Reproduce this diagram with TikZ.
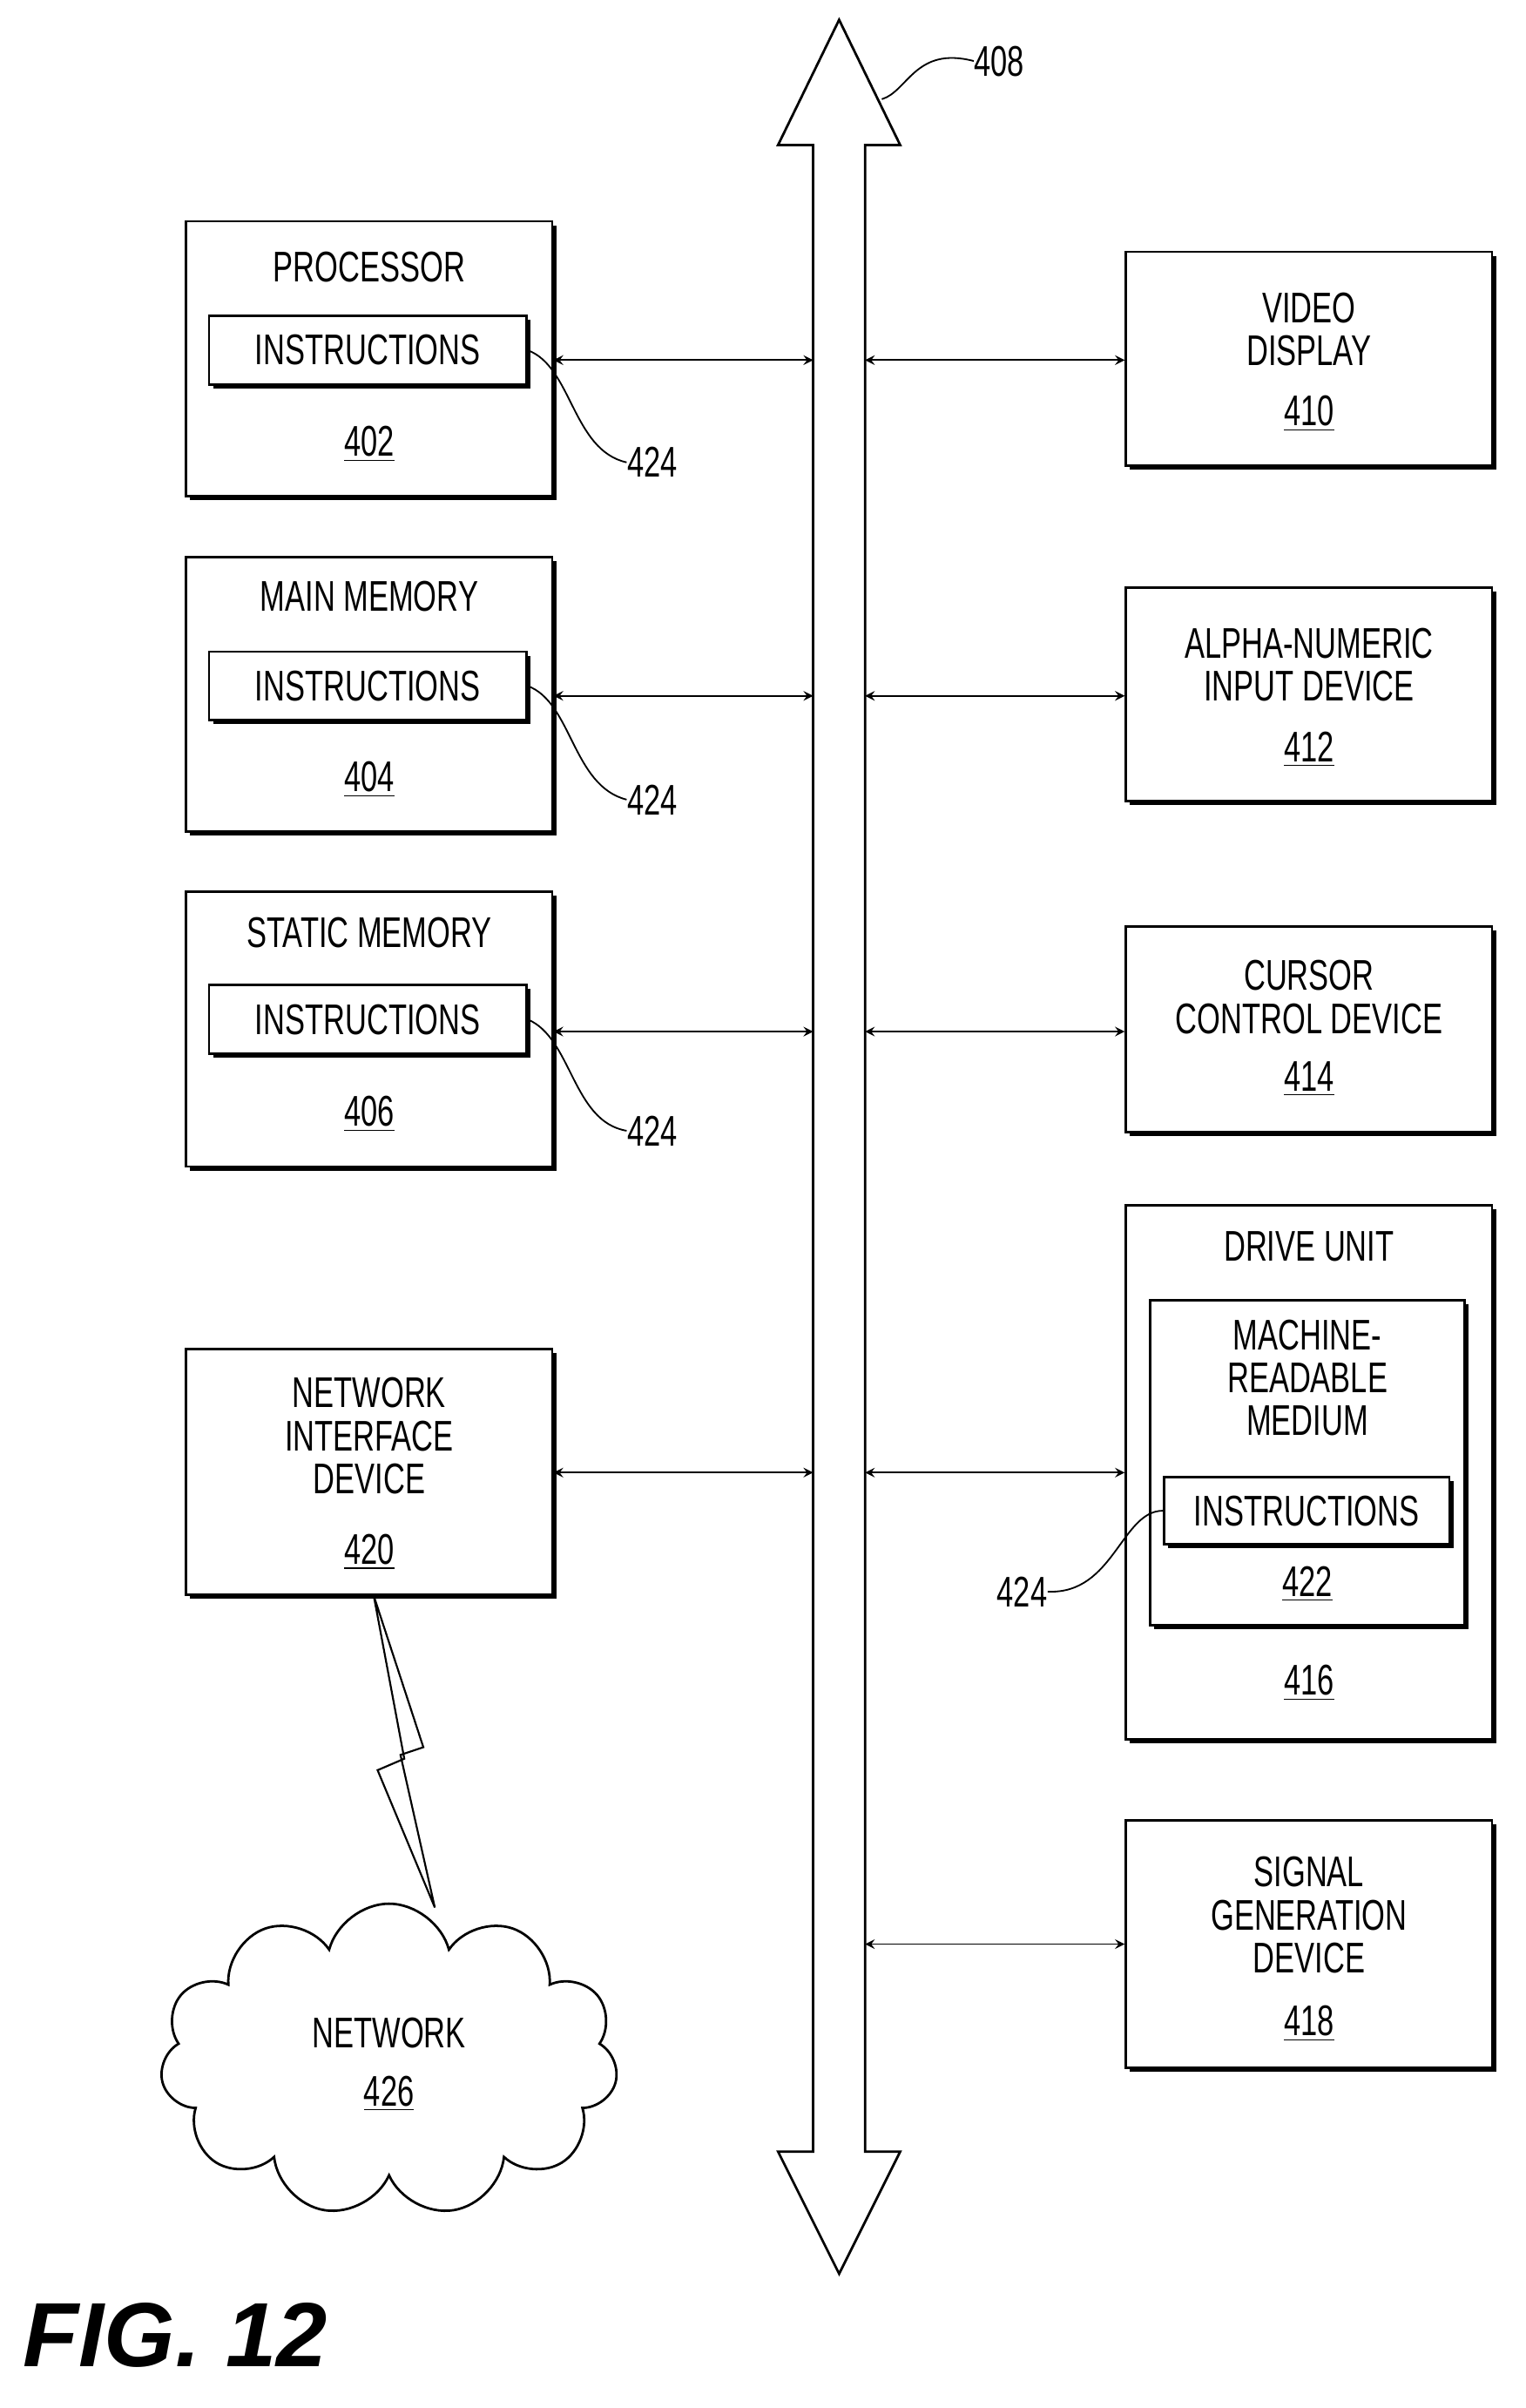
\documentclass[tikz,border=0pt]{standalone}
\usepackage{fontspec}
\setmainfont{Liberation Sans}[FakeStretch=0.7]
\newfontfamily\figfont{Liberation Sans}
\usetikzlibrary{shapes.symbols,shadows}

\begin{document}
\begin{tikzpicture}[%
    font=\fontsize{16}{18}\selectfont,
    box/.style={draw, line width=0.9pt, fill=white, drop shadow={shadow xshift=1.5pt, shadow yshift=-1.5pt, opacity=1, fill=black}},
    txt/.style={align=center, inner sep=0pt},
    biarrow/.style={<->, >=stealth, line width=0.6pt},
    callout/.style={line width=0.6pt},
    ]
    \useasboundingbox (0,0) rectangle (20,-31.56);
    % bus
    \draw[line width=0.9pt] (10.66,-1.90) -- (10.2,-1.90) -- (11.0,-0.26) -- (11.8,-1.90) -- (11.34,-1.90)
      -- (11.34,-28.2) -- (11.8,-28.2) -- (11.0,-29.8) -- (10.2,-28.2) -- (10.66,-28.2) -- cycle;
    \coordinate (busL) at (10.66,0);
    \coordinate (busR) at (11.34,0);
    \node[txt] (l408) at (13.1,-0.80) {408};
    \draw[callout] (11.56,-1.30) .. controls (11.9,-1.2) and (12.0,-0.6) .. (l408.west);
    % left boxes
    \node[box, minimum width=4.8cm, minimum height=3.6cm] (proc) at (4.84,-4.70) {};
    \node[txt] (procT) at (4.84,-3.50) {PROCESSOR};
    \node[box, minimum width=4.16cm, minimum height=0.9cm, txt] (procI) at (4.82,-4.59) {INSTRUCTIONS};
    \node[txt] (procN) at (4.84,-5.82) {\underline{402}};
    \node[box, minimum width=4.8cm, minimum height=3.6cm] (mem) at (4.84,-9.10) {};
    \node[txt] (memT) at (4.84,-7.82) {MAIN MEMORY};
    \node[box, minimum width=4.16cm, minimum height=0.9cm, txt] (memI) at (4.82,-8.99) {INSTRUCTIONS};
    \node[txt] (memN) at (4.84,-10.22) {\underline{404}};
    \node[box, minimum width=4.8cm, minimum height=3.6cm] (stat) at (4.84,-13.49) {};
    \node[txt] (statT) at (4.84,-12.22) {STATIC MEMORY};
    \node[box, minimum width=4.16cm, minimum height=0.9cm, txt] (statI) at (4.82,-13.36) {INSTRUCTIONS};
    \node[txt] (statN) at (4.84,-14.60) {\underline{406}};
    \node[box, minimum width=4.8cm, minimum height=3.22cm] (net) at (4.84,-19.29) {};
    \node[txt] (netT) at (4.84,-18.82) {NETWORK\\[-2pt]INTERFACE\\[-2pt]DEVICE};
    \node[txt] (netN) at (4.84,-20.34) {\underline{420}};
    % callouts 424
    \node[txt] (c1) at (8.55,-6.06) {424};
    \node[txt] (c2) at (8.55,-10.48) {424};
    \node[txt] (c3) at (8.55,-14.82) {424};
    \draw[callout] (procI.east) .. controls (7.5,-4.8) and (7.5,-5.9) .. (c1.west);
    \draw[callout] (memI.east) .. controls (7.5,-9.2) and (7.5,-10.3) .. (c2.west);
    \draw[callout] (statI.east) .. controls (7.5,-13.6) and (7.5,-14.7) .. (c3.west);
    % right boxes
    \node[box, minimum width=4.8cm, minimum height=2.8cm] (vid) at (17.16,-4.70) {};
    \node[txt] (vidT) at (17.16,-4.32) {VIDEO\\[-2pt]DISPLAY};
    \node[txt] (vidN) at (17.16,-5.42) {\underline{410}};
    \node[box, minimum width=4.8cm, minimum height=2.8cm] (alpha) at (17.16,-9.10) {};
    \node[txt] (alphaT) at (17.16,-8.71) {ALPHA-NUMERIC\\[-2pt]INPUT DEVICE};
    \node[txt] (alphaN) at (17.16,-9.82) {\underline{412}};
    \node[box, minimum width=4.8cm, minimum height=2.7cm] (curs) at (17.16,-13.49) {};
    \node[txt] (cursT) at (17.16,-13.07) {CURSOR\\[-2pt]CONTROL DEVICE};
    \node[txt] (cursN) at (17.16,-14.14) {\underline{414}};
    \node[box, minimum width=4.8cm, minimum height=7.0cm] (drive) at (17.16,-19.30) {};
    \node[txt] (driveT) at (17.16,-16.34) {DRIVE UNIT};
    \node[box, minimum width=4.12cm, minimum height=4.26cm] (med) at (17.14,-19.17) {};
    \node[txt] (medT) at (17.14,-18.06) {MACHINE-\\[-2pt]READABLE\\[-2pt]MEDIUM};
    \node[box, minimum width=3.74cm, minimum height=0.88cm, txt] (driveI) at (17.13,-19.80) {INSTRUCTIONS};
    \node[txt] (medN) at (17.14,-20.76) {\underline{422}};
    \node[txt] (driveN) at (17.16,-22.06) {\underline{416}};
    \node[txt] (c4) at (13.4,-20.86) {424};
    \draw[callout] (c4.east) .. controls (14.6,-20.9) and (14.7,-19.8) .. (driveI.west);
    \node[box, minimum width=4.8cm, minimum height=3.24cm] (sig) at (17.16,-25.48) {};
    \node[txt] (sigT) at (17.16,-25.10) {SIGNAL\\[-2pt]GENERATION\\[-2pt]DEVICE};
    \node[txt] (sigN) at (17.16,-26.52) {\underline{418}};
    % bus connections
    \foreach \lb/\y in {proc/-4.72, mem/-9.12, stat/-13.52, net/-19.30}
      \draw[biarrow] (\lb.east |- 0,\y) -- (busL |- 0,\y);
    \foreach \rb/\y in {vid/-4.72, alpha/-9.12, curs/-13.52, drive/-19.30, sig/-25.48}
      \draw[biarrow] (busR |- 0,\y) -- (\rb.west |- 0,\y);
    % network
    \node[cloud, draw, line width=0.9pt, cloud puffs=11, aspect=1.5, minimum width=6cm, minimum height=4.1cm] (cloud) at (5.1,-27.0) {};
    \node[txt] (cloudT) at (5.1,-26.64) {NETWORK};
    \node[txt] (cloudN) at (5.1,-27.44) {\underline{426}};
    \draw[line width=0.7pt, fill=white] (net.south -| 4.9,0) -- (5.55,-22.9) -- (5.25,-23.0) -- (5.7,-25.0)
      -- (4.95,-23.2) -- (5.3,-23.05) -- cycle;
    \node[txt, anchor=west] (fig) at (0.3,-30.6) {\figfont\fontsize{34}{38}\selectfont\bfseries\itshape FIG. 12};
\end{tikzpicture}
\end{document}
